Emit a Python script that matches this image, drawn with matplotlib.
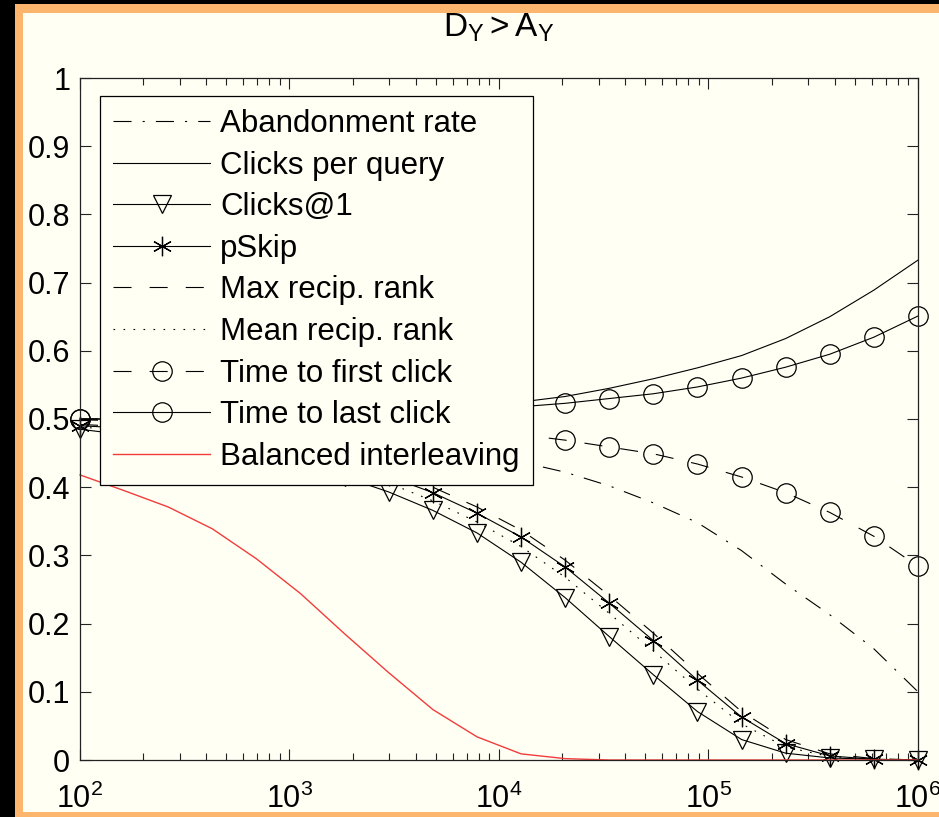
import matplotlib
matplotlib.use("Agg")
import matplotlib.pyplot as plt
from matplotlib.patches import Rectangle
from matplotlib.ticker import LogLocator, FixedLocator, NullFormatter

plt.rcParams['font.family'] = ['Liberation Sans', 'DejaVu Sans']
plt.rcParams['mathtext.fontset'] = 'custom'
plt.rcParams['mathtext.rm'] = 'Liberation Sans'
plt.rcParams['mathtext.it'] = 'Liberation Sans:italic'
plt.rcParams['lines.scale_dashes'] = False

# sample sizes (log spaced, 10^2 .. 10^6)
x = [100, 162.4, 263.7, 428.1, 695.2, 1128.8, 1833.0, 2976.4, 4832.9, 7847.6,
     12742.7, 20691.4, 33598.2, 54555.9, 88586.7, 143845.0, 233572.1, 379269.0,
     615848.2, 1000000]

abandon = [0.499, 0.497, 0.494, 0.490, 0.486, 0.480, 0.474, 0.467, 0.459, 0.449,
           0.437, 0.422, 0.402, 0.377, 0.348, 0.307, 0.258, 0.213, 0.163, 0.100]
clicks_per_query = [0.500, 0.500, 0.501, 0.502, 0.503, 0.505, 0.507, 0.510, 0.514, 0.519,
                    0.525, 0.533, 0.545, 0.559, 0.575, 0.593, 0.618, 0.650, 0.689, 0.733]
clicks_at_1 = [0.485, 0.477, 0.470, 0.462, 0.450, 0.435, 0.415, 0.393, 0.366, 0.333,
               0.290, 0.238, 0.181, 0.125, 0.071, 0.030, 0.010, 0.003, 0.001, 0.000]
pskip = [0.490, 0.487, 0.482, 0.475, 0.466, 0.453, 0.437, 0.416, 0.392, 0.362,
         0.327, 0.283, 0.230, 0.175, 0.117, 0.063, 0.024, 0.006, 0.001, 0.000]
max_rr = [0.492, 0.489, 0.485, 0.479, 0.471, 0.459, 0.444, 0.424, 0.400, 0.371,
          0.337, 0.293, 0.241, 0.186, 0.127, 0.071, 0.030, 0.009, 0.002, 0.000]
mean_rr = [0.488, 0.484, 0.479, 0.471, 0.461, 0.447, 0.429, 0.406, 0.380, 0.349,
           0.313, 0.268, 0.215, 0.160, 0.104, 0.053, 0.019, 0.005, 0.001, 0.000]
first_click = [0.500, 0.500, 0.499, 0.499, 0.498, 0.497, 0.495, 0.492, 0.488, 0.483,
               0.477, 0.469, 0.459, 0.449, 0.434, 0.415, 0.392, 0.363, 0.328, 0.284]
last_click = [0.500, 0.500, 0.501, 0.502, 0.503, 0.504, 0.506, 0.508, 0.511, 0.514,
              0.518, 0.523, 0.530, 0.537, 0.547, 0.560, 0.576, 0.595, 0.620, 0.651]
balanced = [0.418, 0.395, 0.371, 0.339, 0.295, 0.244, 0.185, 0.128, 0.074, 0.034,
            0.009, 0.002, 0.000, 0.000, 0.000, 0.000, 0.000, 0.000, 0.000, 0.000]

labels = ["Abandonment rate", "Clicks per query", "Clicks@1", "pSkip",
          "Max recip. rank", "Mean recip. rank", "Time to first click",
          "Time to last click", "Balanced interleaving"]
y_ticks = [0, 0.1, 0.2, 0.3, 0.4, 0.5, 0.6, 0.7, 0.8, 0.9, 1]
y_ticklabels = ["0", "0.1", "0.2", "0.3", "0.4", "0.5", "0.6", "0.7", "0.8", "0.9", "1"]
x_ticks = [1e2, 1e3, 1e4, 1e5, 1e6]
x_ticklabels = [r"$10^{2}$", r"$10^{3}$", r"$10^{4}$", r"$10^{5}$", r"$10^{6}$"]

cream = "#fffff4"
orange = "#fcb56c"

W, H = 939, 817
fig = plt.figure(figsize=(W / 100, H / 100), dpi=100, facecolor="black")
fig.patches.append(Rectangle((15 / W, 0), 1, (H - 4) / H, transform=fig.transFigure,
                             facecolor=orange, edgecolor="none", zorder=-2))
fig.patches.append(Rectangle((23 / W, 5 / H), 1, (H - 18) / H, transform=fig.transFigure,
                             facecolor=cream, edgecolor="none", zorder=-1))

ax = fig.add_axes([80 / W, 1 - 760 / H, (918 - 80) / W, (760 - 78) / H])
ax.set_facecolor(cream)

lw = 0.8
star = (6, 2, 0)
common = dict(color="black", lw=lw, clip_on=False, mfc="none", mec="black", mew=0.9)
ax.plot(x, abandon, dashes=(13, 8, 1.5, 8), label=labels[0], **common)
ax.plot(x, clicks_per_query, ls="-", label=labels[1], **common)
ax.plot(x, clicks_at_1, ls="-", marker="v", ms=13, label=labels[2], **common)
ax.plot(x, pskip, ls="-", marker=star, ms=14, label=labels[3], **common)
ax.plot(x, max_rr, dashes=(13, 13), label=labels[4], **common)
ax.plot(x, mean_rr, dashes=(1.2, 6), label=labels[5], **common)
ax.plot(x, first_click, dashes=(13, 13), marker="o", ms=14, label=labels[6], **common)
ax.plot(x, last_click, ls="-", marker="o", ms=14, label=labels[7], **common)
ax.plot(x, balanced, color="#f23c3c", lw=1.0, clip_on=False, label=labels[8])

ax.set_xscale("log")
ax.set_xlim(1e2, 1e6)
ax.set_ylim(0, 1)
ax.xaxis.set_major_locator(FixedLocator(x_ticks))
ax.set_xticklabels(x_ticklabels)
ax.xaxis.set_minor_locator(LogLocator(base=10, subs=range(2, 10)))
ax.xaxis.set_minor_formatter(NullFormatter())
ax.set_yticks(y_ticks)
ax.set_yticklabels(y_ticklabels)
ax.tick_params(which="both", direction="in", top=True, right=True,
               labelsize=22, width=0.8, color="#222222")
ax.tick_params(which="major", length=8)
ax.tick_params(which="minor", length=5)
ax.tick_params(axis="x", pad=17)
ax.tick_params(axis="y", pad=7)
for s in ax.spines.values():
    s.set_linewidth(0.9)
    s.set_color("#222222")

ax.set_title(r"$\mathregular{D_Y > A_Y}$", fontsize=24, pad=30)

leg = ax.legend(loc="upper left", bbox_to_anchor=(20 / 838, 1 - 18 / 682),
                fontsize=22.5, frameon=True, fancybox=False, borderaxespad=0,
                handlelength=3.1, handletextpad=0.32, labelspacing=0.37,
                borderpad=0.42, numpoints=1)
leg.get_frame().set_edgecolor("black")
leg.get_frame().set_linewidth(0.9)
leg.get_frame().set_facecolor(cream)
leg.get_frame().set_alpha(1)

fig.savefig("out.png", dpi=100, facecolor=fig.get_facecolor())
